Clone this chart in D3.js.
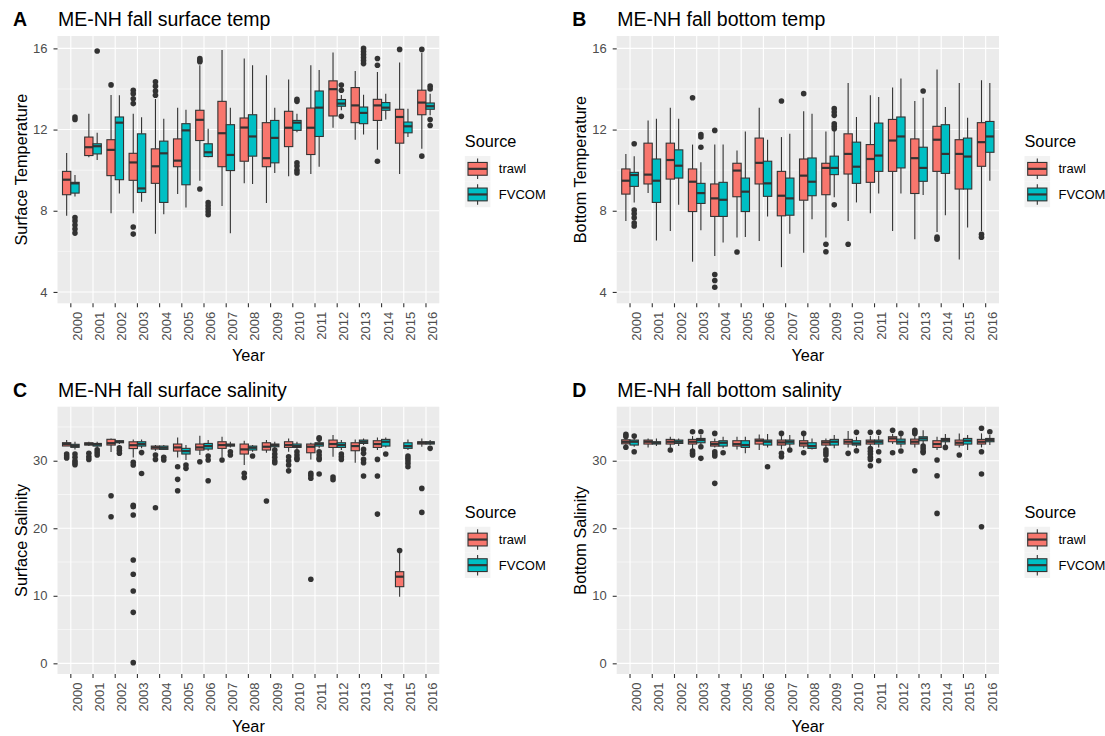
<!DOCTYPE html>
<html><head><meta charset="utf-8">
<script src="https://cdn.jsdelivr.net/npm/d3@7"></script>
<style>body{margin:0;background:#fff;} svg text{font-family:"Liberation Sans",Arial,sans-serif;}</style>
</head><body><svg id="c" width="1105" height="736"></svg>
<script>
const years = [2000,2001,2002,2003,2004,2005,2006,2007,2008,2009,2010,2011,2012,2013,2014,2015,2016];
const sources = ["trawl","FVCOM"];
const sourceColors = ["#F8766D","#00BFC4"];
const tempTicks = [4,8,12,16];
const salTicks = [0,10,20,30];

// box stats per year: [lower whisker, Q1, median, Q3, upper whisker]
const surfTempTrawl = [[7.75,8.79,9.53,9.94,10.85],[10.64,10.72,11.13,11.63,12.78],[7.88,9.73,11.0,11.5,13.7],[7.88,9.5,10.38,10.83,12.78],[6.87,9.35,10.19,11.05,13.5],[8.82,10.17,10.47,11.54,13.08],[9.48,11.46,12.48,12.95,15.17],[8.24,10.17,11.82,13.39,15.92],[9.35,10.44,12.1,12.57,15.5],[8.38,10.17,10.59,12.34,14.68],[9.7,11.16,12.09,12.9,14.47],[9.81,10.77,12.09,13.06,15.17],[12.09,12.67,13.99,14.4,15.8],[11.5,12.34,13.19,14.07,14.89],[11.0,12.45,13.19,13.49,14.84],[9.81,11.33,12.62,13.0,15.3],[11.05,12.73,13.33,13.94,15.79]];
const surfTempTrawlOut = [[],[],[14.2],[13.94,13.77,13.52,13.28,7.2,6.85],[14.35,14.14,13.9,13.69],[],[15.5,15.4,15.34,9.07],[],[],[],[],[],[],[],[15.5,15.17,10.44],[15.95],[15.95,10.69]];
const surfTempFvcom = [[8.7,8.87,9.35,9.4,9.76],[10.5,10.8,11.18,11.3,11.84],[8.85,9.53,12.34,12.62,13.69],[8.44,8.9,9.1,11.79,12.61],[7.83,8.41,10.83,11.43,12.53],[8.16,9.28,11.96,12.29,12.98],[10.64,10.67,10.88,11.3,12.04],[6.89,9.98,10.75,12.24,13.08],[9.32,10.69,11.66,12.73,15.17],[9.86,10.36,11.59,12.45,13.08],[11.87,11.96,12.34,12.45,12.78],[10.17,11.66,13.08,13.9,14.93],[12.95,13.15,13.28,13.48,13.7],[11.76,12.29,12.82,13.11,13.72],[12.49,12.95,13.08,13.33,13.77],[11.63,11.84,12.16,12.37,13.03],[12.7,13.0,13.15,13.31,13.77]];
const surfTempFvcomOut = [[12.62,12.5,7.67,7.5,7.3,7.1,6.9],[15.87],[],[],[],[],[8.4,8.25,8.1,7.95,7.8],[],[],[],[13.49,13.39,10.36,10.2,10.0,9.86],[],[14.19,13.94,12.65],[16.0,15.85,15.7,15.55,15.4,15.25],[],[],[14.14,14.0,12.49,12.2]];

const botTempTrawl = [[7.5,8.82,9.48,10.06,10.8],[8.87,9.32,9.78,11.33,12.45],[7.0,9.56,10.5,11.33,13.08],[5.49,7.96,9.43,10.06,11.26],[5.77,7.72,8.61,9.32,11.26],[6.68,8.69,9.98,10.34,10.97],[6.51,9.32,10.36,11.58,13.08],[5.22,7.75,8.74,9.94,11.63],[5.93,8.52,9.73,10.55,12.9],[6.68,8.79,10.11,10.34,11.91],[7.5,9.81,10.8,11.79,14.3],[7.88,9.4,10.55,11.26,13.69],[7.0,9.94,11.46,12.5,14.07],[6.59,8.85,10.59,11.54,13.41],[6.95,9.94,11.5,12.16,14.96],[5.6,9.07,10.8,11.5,14.3],[7.0,10.19,11.38,12.34,14.43]];
const botTempTrawlOut = [[],[],[],[13.57],[11.96,4.86,4.56,4.23],[5.97],[],[13.41],[13.77],[6.35,5.98],[6.35],[],[],[],[6.7,6.6],[],[6.84,6.7]];
const botTempFvcom = [[8.41,9.2,9.76,9.89,10.69],[6.54,8.41,9.48,10.55,12.53],[8.29,9.61,10.22,11.0,12.53],[7.04,8.36,8.87,9.35,10.39],[6.43,7.72,8.54,9.4,11.26],[6.71,7.96,8.94,9.61,11.91],[7.72,8.71,9.35,10.44,11.5],[6.87,7.78,8.61,9.61,11.79],[7.58,8.74,9.43,10.6,12.78],[8.66,9.78,10.11,10.69,11.96],[8.41,9.35,10.17,11.38,12.62],[8.85,9.94,10.72,12.32,13.6],[8.85,10.11,11.66,12.62,14.51],[8.77,9.45,10.11,11.13,13.57],[7.78,9.84,10.8,12.24,13.11],[7.17,9.07,10.67,11.58,12.58],[9.48,10.88,11.66,12.4,14.3]];
const botTempFvcomOut = [[11.3,8.03,7.85,7.65,7.4,7.25],[],[],[11.76,11.63,11.13],[],[],[],[],[],[13.03,12.86,12.7,12.29,12.16,12.04,8.29],[],[],[],[13.9],[],[],[]];

const surfSalTrawl = [[32.17,32.18,32.47,32.67,33.06],[32.17,32.32,32.47,32.66,32.8],[31.3,32.32,32.6,33.17,33.3],[30.49,31.8,32.3,32.8,33.16],[31.48,31.73,31.97,32.17,32.32],[30.49,31.43,31.97,32.47,33.45],[30.84,31.58,31.97,32.47,33.7],[30.49,31.83,32.32,32.81,33.55],[29.36,30.99,31.68,32.47,32.96],[31.18,31.58,32.07,32.66,33.06],[31.33,31.97,32.32,32.81,33.3],[30.2,31.18,32.07,32.47,32.66],[30.6,31.97,32.47,33.06,33.8],[29.7,31.48,32.17,32.66,33.16],[31.58,31.97,32.47,32.96,33.45],[9.87,11.35,12.83,13.57,16.5],[32.07,32.47,32.66,32.81,33.3]];
const surfSalTrawlOut = [[31.0,30.7,30.4],[31.1,30.6,30.2],[24.82,21.7],[29.76,29.36,23.4,23.2,21.96,15.3,13.2,10.7,7.55,0.1],[30.84,30.2,23.04],[29.1,27.24,25.56],[29.85],[30.1],[28.13,27.53],[24.03],[30.6,30.0,29.36,28.5],[28.13,27.8,27.4,12.44],[27.6,27.2],[],[30.2,27.73,22.1],[16.7],[25.9,22.35]];
const surfSalFvcom = [[31.68,31.98,32.2,32.43,32.81],[31.97,32.17,32.4,32.56,32.8],[32.47,32.66,32.81,32.96,33.06],[31.83,32.17,32.47,32.81,33.16],[31.58,31.68,31.92,32.17,32.32],[30.1,30.99,31.43,31.83,32.32],[31.48,31.73,32.17,32.56,33.06],[31.97,32.17,32.32,32.47,32.81],[31.33,31.58,31.92,32.17,32.32],[31.83,32.07,32.32,32.47,32.81],[31.68,31.97,32.17,32.47,32.81],[31.83,32.17,32.47,32.66,33.0],[31.58,31.97,32.32,32.66,33.06],[32.32,32.56,32.81,33.06,33.3],[31.97,32.17,32.81,33.16,33.45],[31.58,31.83,32.17,32.66,33.16],[32.32,32.47,32.66,32.81,33.06]];
const surfSalFvcomOut = [[31.0,30.5,30.0,29.7,29.4],[31.6,31.2,30.85],[31.9,31.5,31.1],[31.2,28.1],[30.5,30.1],[29.36,28.87],[30.7,30.1,27.04],[31.33,30.84],[30.7],[31.58,31.0,30.5,30.0,29.7],[31.33,30.84,30.4,30.2],[33.4,33.2,31.33,30.84,30.4,30.2,28.03],[31.0,30.6,30.2],[31.68,31.09,30.2,29.7,27.73],[30.99],[30.7,30.35,30.0,29.6,29.1],[31.83]];

const botSalTrawl = [[32.3,32.5,32.8,33.1,33.4],[31.97,32.47,32.81,33.06,33.3],[31.97,32.47,32.81,33.16,33.55],[31.68,32.47,32.81,33.16,33.65],[31.97,32.17,32.47,32.81,33.3],[31.68,32.17,32.47,32.96,33.55],[31.58,32.47,32.96,33.2,33.9],[31.68,32.32,32.71,33.06,33.65],[31.83,32.17,32.56,32.96,33.65],[31.97,32.32,32.71,32.96,33.3],[31.97,32.47,32.81,33.16,34.4],[32.07,32.47,32.81,33.06,33.65],[32.47,32.81,33.3,33.55,33.95],[31.97,32.47,32.81,33.2,33.8],[31.58,31.97,32.47,32.96,33.55],[31.97,32.32,32.66,33.06,34.05],[31.97,32.47,32.81,33.16,34.05]];
const botSalTrawlOut = [[33.9,33.6,32.0],[],[31.58],[34.3,31.43,31.1,30.84],[34.05,31.33,30.99,30.7,26.65],[],[],[34.05,31.09,30.6],[34.05,31.18],[31.6,31.2,30.84,30.1],[31.09],[34.2,31.8,31.4,31.0,30.5,30.2,29.26],[34.5,31.18],[34.5,34.25,34.05,28.52],[30.1,27.78,22.2],[30.84],[34.8,31.33,28.03,20.23]];
const botSalFvcom = [[32.07,32.32,32.81,33.06,33.3],[32.17,32.47,32.66,32.81,33.3],[32.17,32.56,32.81,33.06,33.3],[32.47,32.66,33.06,33.3,33.8],[31.83,32.17,32.66,32.96,33.55],[31.09,31.97,32.32,32.96,33.55],[31.97,32.32,32.81,33.06,33.95],[31.83,32.47,32.81,33.06,33.8],[31.68,31.83,32.17,32.66,33.3],[31.83,32.32,32.81,33.16,33.8],[31.97,32.32,32.56,32.96,33.55],[31.97,32.47,32.81,33.06,33.65],[31.97,32.47,32.81,33.2,33.8],[32.47,32.96,33.3,33.55,34.5],[32.17,32.81,33.06,33.3,33.95],[31.58,32.47,32.96,33.3,33.8],[32.32,32.81,33.06,33.3,33.8]];
const botSalFvcomOut = [[33.65,31.33],[],[],[34.3,32.07,30.35],[31.18],[],[29.1],[31.58],[],[],[34.2,31.48],[34.2,31.33,30.0],[34.05,31.43],[32.17,31.8,31.4,31.2],[31.97],[],[34.3]];

const panels = [
  {tag:"A", title:"ME-NH fall surface temp", ylab:"Surface Temperature", stats:[surfTempTrawl,surfTempFvcom], outs:[surfTempTrawlOut,surfTempFvcomOut], ticks:tempTicks, domain:[3.44,16.61], col:0, row:0},
  {tag:"B", title:"ME-NH fall bottom temp", ylab:"Bottom Temperature", stats:[botTempTrawl,botTempFvcom], outs:[botTempTrawlOut,botTempFvcomOut], ticks:tempTicks, domain:[3.44,16.61], col:1, row:0},
  {tag:"C", title:"ME-NH fall surface salinity", ylab:"Surface Salinity", stats:[surfSalTrawl,surfSalFvcom], outs:[surfSalTrawlOut,surfSalFvcomOut], ticks:salTicks, domain:[-1.58,38.0], col:0, row:1},
  {tag:"D", title:"ME-NH fall bottom salinity", ylab:"Bottom Salinity", stats:[botSalTrawl,botSalFvcom], outs:[botSalTrawlOut,botSalFvcomOut], ticks:salTicks, domain:[-1.58,38.0], col:1, row:1}
];
const colX = [[57.5,439.3],[616.7,999]];
const rowY = [[36,303.3],[406.7,674]];

const svg = d3.select("#c");
svg.append("rect").attr("width",1105).attr("height",736).attr("fill","#fff");
const DARK = "#333333";

panels.forEach(p => {
  const [x0,x1] = colX[p.col];
  const [y0,y1] = rowY[p.row];
  const g = svg.append("g");
  const x = d3.scaleBand().domain(years).range([x0,x1]).paddingInner(0).paddingOuter(0.1);
  const y = d3.scaleLinear().domain(p.domain).range([y1,y0]);
  const xs = d3.scaleBand().domain(sources).range([-0.375*x.step(), 0.375*x.step()]);
  const color = d3.scaleOrdinal().domain(sources).range(sourceColors);

  g.append("rect").attr("x",x0).attr("y",y0).attr("width",x1-x0).attr("height",y1-y0).attr("fill","#EBEBEB");
  const step = p.ticks[1]-p.ticks[0];
  const minor = [p.ticks[0]-step/2, ...p.ticks.map(t=>t+step/2)].filter(v=>v>p.domain[0]&&v<p.domain[1]);
  g.selectAll(".mn").data(minor).join("line").attr("x1",x0).attr("x2",x1)
    .attr("y1",d=>y(d)).attr("y2",d=>y(d)).attr("stroke","#fff").attr("stroke-width",0.55);
  g.selectAll(".mj").data(p.ticks).join("line").attr("x1",x0).attr("x2",x1)
    .attr("y1",d=>y(d)).attr("y2",d=>y(d)).attr("stroke","#fff").attr("stroke-width",1.1);
  g.selectAll(".vx").data(years).join("line").attr("y1",y0).attr("y2",y1)
    .attr("x1",d=>x(d)+x.bandwidth()/2).attr("x2",d=>x(d)+x.bandwidth()/2).attr("stroke","#fff").attr("stroke-width",1.1);

  const bw = xs.bandwidth();
  sources.forEach((s,k) => {
    const cxOf = i => x(years[i]) + x.bandwidth()/2 + xs(s) + bw/2;
    const gs = g.append("g");
    p.outs[k].forEach((arr,i) => {
      gs.selectAll(null).data(arr).join("circle").attr("cx",cxOf(i)).attr("cy",d=>y(d)).attr("r",2.8).attr("fill",DARK);
    });
    const st = p.stats[k];
    gs.selectAll(".wl").data(st).join("line").attr("x1",(d,i)=>cxOf(i)).attr("x2",(d,i)=>cxOf(i))
      .attr("y1",d=>y(d[0])).attr("y2",d=>y(d[1])).attr("stroke",DARK).attr("stroke-width",1.1);
    gs.selectAll(".wh").data(st).join("line").attr("x1",(d,i)=>cxOf(i)).attr("x2",(d,i)=>cxOf(i))
      .attr("y1",d=>y(d[3])).attr("y2",d=>y(d[4])).attr("stroke",DARK).attr("stroke-width",1.1);
    gs.selectAll(".bx").data(st).join("rect").attr("x",(d,i)=>cxOf(i)-bw/2).attr("width",bw)
      .attr("y",d=>y(d[3])).attr("height",d=>y(d[1])-y(d[3]))
      .attr("fill",color(s)).attr("stroke",DARK).attr("stroke-width",1.1);
    gs.selectAll(".md").data(st).join("line").attr("x1",(d,i)=>cxOf(i)-bw/2).attr("x2",(d,i)=>cxOf(i)+bw/2)
      .attr("y1",d=>y(d[2])).attr("y2",d=>y(d[2])).attr("stroke",DARK).attr("stroke-width",2.2);
  });

  const ya = g.append("g").attr("transform",`translate(${x0},0)`)
    .call(d3.axisLeft(y).tickValues(p.ticks).tickSize(4).tickPadding(6).tickFormat(d3.format("d")));
  ya.attr("font-family",null).attr("font-size",null);
  ya.select(".domain").remove();
  ya.selectAll("line").attr("stroke",DARK).attr("stroke-width",1.1);
  ya.selectAll("text").attr("fill","#4D4D4D").style("font-size","13px");

  const xa = g.append("g").attr("transform",`translate(0,${y1})`)
    .call(d3.axisBottom(x).tickSize(4).tickPadding(4));
  xa.attr("font-family",null).attr("font-size",null);
  xa.select(".domain").remove();
  xa.selectAll("line").attr("stroke",DARK).attr("stroke-width",1.1);
  xa.selectAll("text").attr("fill","#4D4D4D").style("font-size","13px")
    .attr("transform","rotate(-90)").attr("text-anchor","end")
    .attr("x",-8.5).attr("y",0).attr("dy","0.85em");

  g.append("text").attr("x",x0-44.5).attr("y",y0-10).attr("font-weight","bold").style("font-size","19.5px").attr("fill","#000").text(p.tag);
  g.append("text").attr("x",x0+0.5).attr("y",y0-10).style("font-size","19.5px").attr("fill","#000").text(p.title);
  g.append("text").attr("x",(x0+x1)/2).attr("y",y1+58).attr("text-anchor","middle").style("font-size","16.3px").attr("fill","#000").text("Year");
  g.append("text").attr("transform",`translate(${x0-30.5},${(y0+y1)/2}) rotate(-90)`).attr("text-anchor","middle")
    .style("font-size","16.3px").attr("fill","#000").text(p.ylab);

  const lx = x1+25.5, cy = (y0+y1)/2, ks = 25.6;
  const lg = g.append("g");
  lg.append("text").attr("x",lx).attr("y",cy-22.3).style("font-size","16.3px").attr("fill","#000").text("Source");
  sources.forEach((s,k) => {
    const ky = cy-13.6 + k*ks;
    lg.append("rect").attr("x",lx).attr("y",ky).attr("width",ks).attr("height",ks).attr("fill","#F2F2F2");
    lg.append("line").attr("x1",lx+ks/2).attr("x2",lx+ks/2).attr("y1",ky+ks*0.1).attr("y2",ky+ks*0.9).attr("stroke",DARK).attr("stroke-width",1.1);
    lg.append("rect").attr("x",lx+ks*0.125).attr("y",ky+ks*0.25).attr("width",ks*0.75).attr("height",ks*0.5)
      .attr("fill",color(s)).attr("stroke",DARK).attr("stroke-width",1.1);
    lg.append("line").attr("x1",lx+ks*0.125).attr("x2",lx+ks*0.875).attr("y1",ky+ks/2).attr("y2",ky+ks/2).attr("stroke",DARK).attr("stroke-width",2.2);
    lg.append("text").attr("x",lx+34).attr("y",ky+ks/2+4.6).style("font-size","13px").attr("fill","#000").text(s);
  });
});
</script></body></html>
